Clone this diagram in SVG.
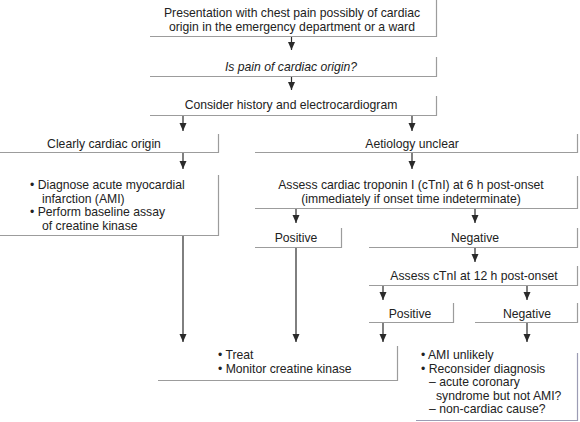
<svg xmlns="http://www.w3.org/2000/svg" width="580" height="422" viewBox="0 0 580 422">
<defs>
<marker id="ah" markerUnits="userSpaceOnUse" markerWidth="8" markerHeight="8" refX="8" refY="3.5" orient="auto" viewBox="0 0 8 7">
<path d="M0,0 L8,3.5 L0,7 z" fill="#2a2a2a"/>
</marker>
<style>
.b{fill:none;stroke:#9c9c9c;stroke-width:1.2}
.c{fill:none;stroke:#2a2a2a;stroke-width:1.2;marker-end:url(#ah)}
text{font-family:"Liberation Sans",Arial,Helvetica,sans-serif;font-size:12.2px;fill:#222}
.m{text-anchor:middle}
.i{font-style:italic}
</style>
</defs>
<rect width="580" height="422" fill="#fff"/>
<g id="presentation">
<polyline class="b" points="150,36.5 436.5,36.5 436.5,0"/>
<text class="m" x="292" y="17">Presentation with chest pain possibly of cardiac</text>
<text class="m" x="292" y="31">origin in the emergency department or a ward</text>
</g>
<g id="question">
<polyline class="b" points="150,76.5 436.5,76.5 436.5,57"/>
<text class="m i" x="291" y="71">Is pain of cardiac origin?</text>
</g>
<g id="consider">
<polyline class="b" points="150,115.5 436.5,115.5 436.5,96"/>
<text class="m" x="291" y="109">Consider history and electrocardiogram</text>
</g>
<g id="clearly">
<polyline class="b" points="0,152.5 218.5,152.5 218.5,134"/>
<text class="m" x="104" y="148">Clearly cardiac origin</text>
</g>
<g id="aetiology">
<polyline class="b" points="255,152.5 577.5,152.5 577.5,134"/>
<text class="m" x="412" y="148">Aetiology unclear</text>
</g>
<g id="diagnose">
<polyline class="b" points="0,235.5 218.5,235.5 218.5,175"/>
<text x="30" y="189">• Diagnose acute myocardial</text>
<text x="42" y="202.5">infarction (AMI)</text>
<text x="30" y="216">• Perform baseline assay</text>
<text x="42" y="229.5">of creatine kinase</text>
</g>
<g id="troponin6">
<polyline class="b" points="255,208.5 577.5,208.5 577.5,176"/>
<text class="m" x="411" y="189">Assess cardiac troponin I (cTnI) at 6 h post-onset</text>
<text class="m" x="411" y="202.5">(immediately if onset time indeterminate)</text>
</g>
<g id="positive1">
<polyline class="b" points="255,247.5 341.5,247.5 341.5,228"/>
<text class="m" x="296" y="242">Positive</text>
</g>
<g id="negative1">
<polyline class="b" points="369,247.5 577.5,247.5 577.5,228"/>
<text class="m" x="475" y="242">Negative</text>
</g>
<g id="troponin12">
<polyline class="b" points="369,285.5 577.5,285.5 577.5,266"/>
<text class="m" x="474" y="280">Assess cTnI at 12 h post-onset</text>
</g>
<g id="positive2">
<polyline class="b" points="369,322.5 453.5,322.5 453.5,303"/>
<text class="m" x="410" y="318">Positive</text>
</g>
<g id="negative2">
<polyline class="b" points="475,322.5 577.5,322.5 577.5,303"/>
<text class="m" x="527" y="318">Negative</text>
</g>
<g id="treat">
<polyline class="b" points="158,380.5 397.5,380.5 397.5,346"/>
<text x="218" y="359">• Treat</text>
<text x="218" y="373">• Monitor creatine kinase</text>
</g>
<g id="unlikely">
<polyline class="b" points="416,420.5 577.5,420.5 577.5,353" style="stroke:#9c9cb4"/>
<text x="421" y="359">• AMI unlikely</text>
<text x="421" y="372.5">• Reconsider diagnosis</text>
<text x="429" y="386">– acute coronary</text>
<text x="436" y="399.5">syndrome but not AMI?</text>
<text x="429" y="413">– non-cardiac cause?</text>
</g>
<g id="connectors">
<line class="c" x1="291.5" y1="37" x2="291.5" y2="50"/>
<line class="c" x1="291.5" y1="77" x2="291.5" y2="90"/>
<line class="c" x1="183" y1="116" x2="183" y2="131"/>
<line class="c" x1="412" y1="116" x2="412" y2="131"/>
<line class="c" x1="183" y1="153" x2="183" y2="169"/>
<line class="c" x1="412" y1="153" x2="412" y2="169"/>
<line class="c" x1="296" y1="209" x2="296" y2="223"/>
<line class="c" x1="475" y1="209" x2="475" y2="223"/>
<line class="c" x1="475" y1="248" x2="475" y2="262"/>
<line class="c" x1="383" y1="286" x2="383" y2="300"/>
<line class="c" x1="527" y1="286" x2="527" y2="300"/>
<line class="c" x1="183" y1="236" x2="183" y2="342"/>
<line class="c" x1="296" y1="248" x2="296" y2="342"/>
<line class="c" x1="383" y1="323" x2="383" y2="342"/>
<line class="c" x1="527" y1="323" x2="527" y2="342"/>
</g>
</svg>
